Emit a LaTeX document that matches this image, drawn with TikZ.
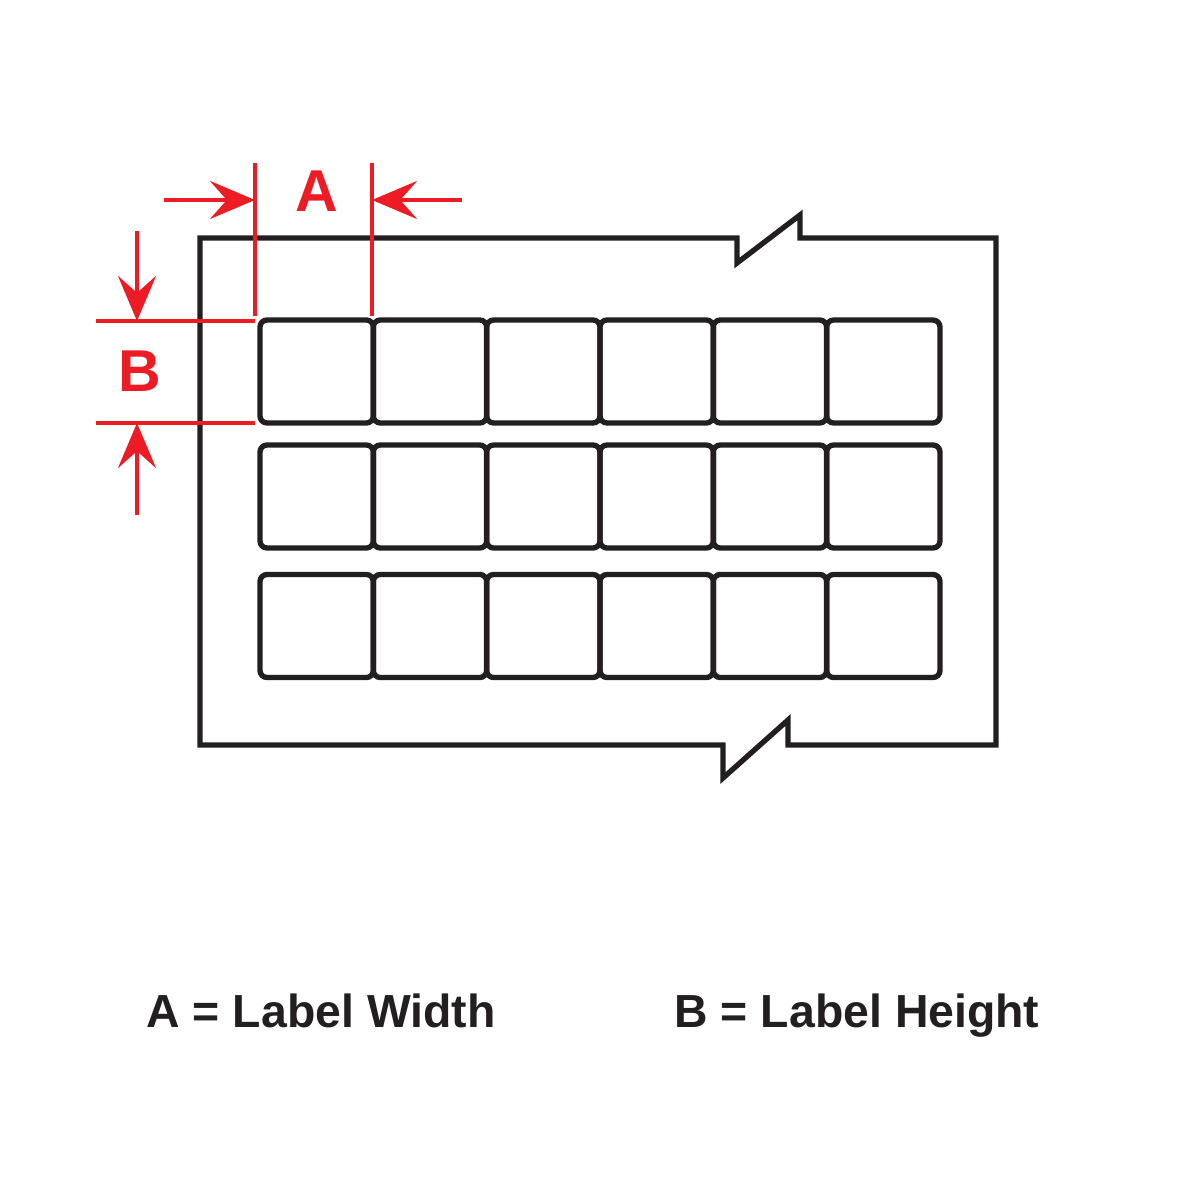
\documentclass[tikz,border=0pt]{standalone}
\usepackage{fontspec}
\setmainfont{Liberation Sans}
\usetikzlibrary{arrows.meta}
\definecolor{dimred}{HTML}{ED1C24}
\definecolor{ink}{HTML}{231F20}
\tikzset{
  sheet/.style={draw=ink, line width=3.8pt, line join=miter},
  labelbox/.style={draw=ink, line width=3.8pt, rounded corners=5pt, inner sep=0pt,
    minimum width=2.833cm, minimum height=2.575cm},
  extline/.style={draw=dimred, line width=3pt},
  dimarrow/.style={draw=dimred, line width=3pt, -{Stealth[length=32pt,width=27pt,inset=12pt]}},
  dimtext/.style={text=dimred, font=\fontsize{42}{42}\selectfont\bfseries, anchor=base, inner sep=0pt},
  keytext/.style={text=ink, font=\fontsize{33}{38}\selectfont\bfseries, anchor=base, inner sep=0pt}
}
\begin{document}
\begin{tikzpicture}[x=0.025cm, y=-0.025cm]
  \useasboundingbox (0,0) rectangle (1200,1200);
  \draw[sheet] (200,238) -- (737,238) -- (737,263) -- (800,215) -- (800,238) -- (996,238)
    -- (996,745) -- (788,745) -- (788,720) -- (723,778) -- (723,745) -- (200,745) -- cycle;
  \foreach \r/\ry in {1/371.5, 2/496.5, 3/626}
    \foreach \c in {1,...,6}
      \node[labelbox] (box-\r-\c) at ({316.67+113.33*(\c-1)}, \ry) {};
  \coordinate (wl-top) at (255,163);
  \coordinate (wl-bot) at (255,316);
  \coordinate (wr-top) at (372,163);
  \coordinate (wr-bot) at (372,316);
  \coordinate (ht-left) at (96,321);
  \coordinate (ht-right) at (255,321);
  \coordinate (hb-left) at (96,423);
  \coordinate (hb-right) at (255,423);
  \draw[extline] (wl-top) -- (wl-bot);
  \draw[extline] (wr-top) -- (wr-bot);
  \draw[extline] (ht-left) -- (ht-right);
  \draw[extline] (hb-left) -- (hb-right);
  \coordinate (aw-left) at (164,200);
  \coordinate (aw-right) at (462,200);
  \coordinate (ah-top) at (137,231);
  \coordinate (ah-bot) at (137,515);
  \draw[dimarrow] (aw-left) -- (wl-top |- aw-left);
  \draw[dimarrow] (aw-right) -- (wr-top |- aw-right);
  \draw[dimarrow] (ah-top) -- (ah-top |- ht-left);
  \draw[dimarrow] (ah-bot) -- (ah-bot |- hb-left);
  \node[dimtext] (dim-a) at (317,212) {A};
  \node[dimtext] (dim-b) at (140,392) {B};
  \node[keytext] (key-a) at (321,1027) {A = Label Width};
  \node[keytext] (key-b) at (857,1027) {B = Label Height};
\end{tikzpicture}
\end{document}
